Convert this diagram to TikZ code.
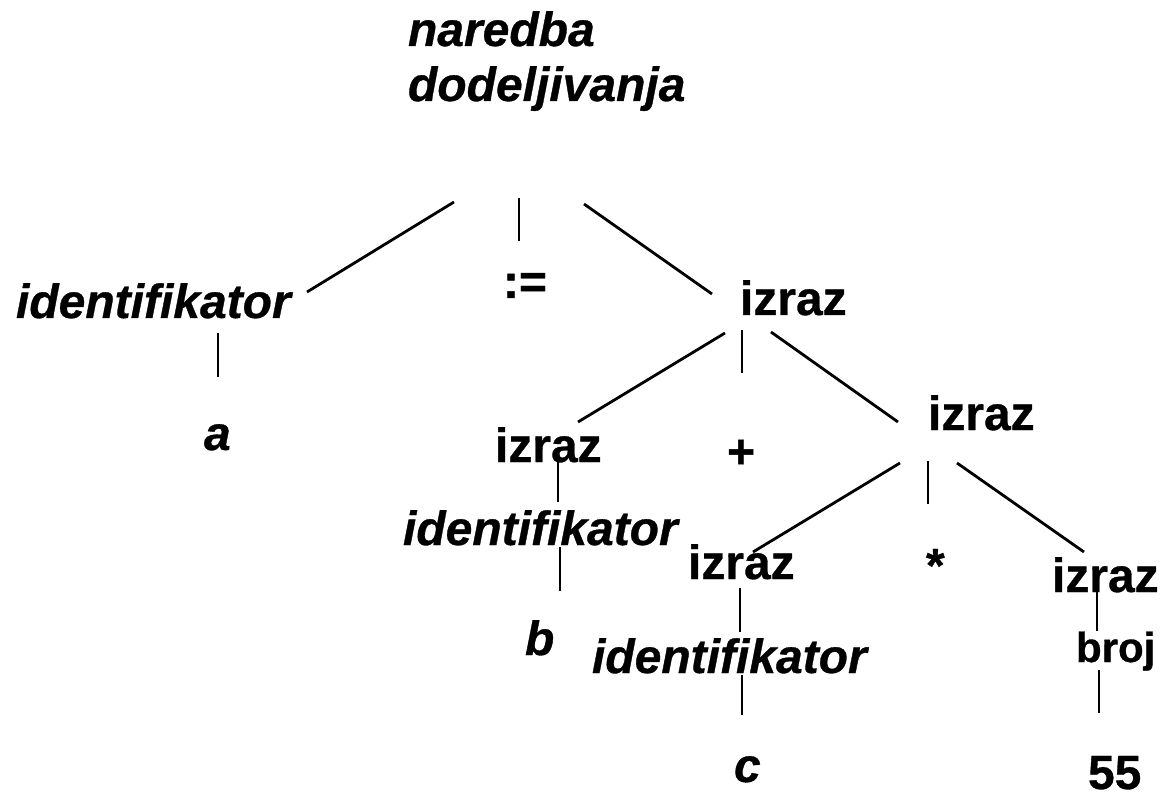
\documentclass[tikz,border=0pt]{standalone}
\usepackage{fontspec}
\setmainfont{Liberation Sans}[
  BoldFeatures={FakeBold=0.7},
  BoldItalicFeatures={FakeBold=0.7}]
\begin{document}
\begin{tikzpicture}[x=1pt,y=-1pt,
  lbl/.style={inner sep=0pt, outer sep=0pt, anchor=base west,
    font=\fontsize{48}{55}\selectfont\bfseries},
  ilbl/.style={lbl, font=\fontsize{48}{55}\selectfont\bfseries\itshape},
  slbl/.style={lbl, font=\fontsize{42}{48}\selectfont\bfseries},
  edge/.style={line width=2.8pt, black}]
\useasboundingbox (0,0) rectangle (1165,794);

% labels of the parse tree
\node[ilbl] (stmt)  at (408,46)  {naredba};
\node[ilbl] (stmtb) at (408,101) {dodeljivanja};
\node[ilbl] (idA)   at (16,318)  {identifikator};
\node[ilbl] (a)     at (204,450) {a};
\node[lbl]  (asg)   at (503,298) {:=};
\node[lbl]  (ex1)   at (740,315) {izraz};
\node[lbl]  (ex2)   at (495,462) {izraz};
\node[lbl]  (plus)  at (727,468) {+};
\node[lbl]  (ex3)   at (928,430) {izraz};
\node[ilbl] (idB)   at (403,545) {identifikator};
\node[ilbl] (b)     at (525,655) {b};
\node[lbl]  (ex4)   at (688,579) {izraz};
\node[lbl]  (star)  at (926,582) {*};
\node[lbl]  (ex5)   at (1052,592) {izraz};
\node[ilbl] (idC)   at (592,673) {identifikator};
\node[slbl] (num)   at (1076,662) {broj};
\node[ilbl] (c)     at (734,782) {c};
\node[lbl]  (n55)   at (1088,789) {55};

% end points of the tree branches
\coordinate (s-l) at (454,202);  \coordinate (idA-t) at (307,292);
\coordinate (s-m) at (519,198);  \coordinate (asg-t) at (519,241);
\coordinate (s-r) at (584,204);  \coordinate (ex1-t) at (712,294);
\coordinate (idA-b) at (218,333); \coordinate (a-t) at (218,377);
\coordinate (e1-l) at (725,333); \coordinate (ex2-t) at (578,422);
\coordinate (e1-m) at (742,330); \coordinate (plus-t) at (742,373);
\coordinate (e1-r) at (771,332); \coordinate (ex3-t) at (898,422);
\coordinate (e2-b) at (558,460); \coordinate (idB-t) at (558,502);
\coordinate (idB-b) at (560,547); \coordinate (b-t) at (560,591);
\coordinate (e3-l) at (900,463); \coordinate (ex4-t) at (753,552);
\coordinate (e3-m) at (928,461); \coordinate (star-t) at (928,504);
\coordinate (e3-r) at (957,463); \coordinate (ex5-t) at (1084,552);
\coordinate (e4-b) at (740,588); \coordinate (idC-t) at (740,632);
\coordinate (idC-b) at (742,675); \coordinate (c-t) at (742,715);
\coordinate (e5-b) at (1097,588); \coordinate (num-t) at (1097,631);
\coordinate (num-b) at (1099,670); \coordinate (n55-t) at (1099,713);

% branches
\draw[edge] (s-l) -- (idA-t);
\draw[edge] (s-m) -- (asg-t);
\draw[edge] (s-r) -- (ex1-t);
\draw[edge] (idA-b) -- (a-t);
\draw[edge] (e1-l) -- (ex2-t);
\draw[edge] (e1-m) -- (plus-t);
\draw[edge] (e1-r) -- (ex3-t);
\draw[edge] (e2-b) -- (idB-t);
\draw[edge] (idB-b) -- (b-t);
\draw[edge] (e3-l) -- (ex4-t);
\draw[edge] (e3-m) -- (star-t);
\draw[edge] (e3-r) -- (ex5-t);
\draw[edge] (e4-b) -- (idC-t);
\draw[edge] (idC-b) -- (c-t);
\draw[edge] (e5-b) -- (num-t);
\draw[edge] (num-b) -- (n55-t);
\end{tikzpicture}
\end{document}
